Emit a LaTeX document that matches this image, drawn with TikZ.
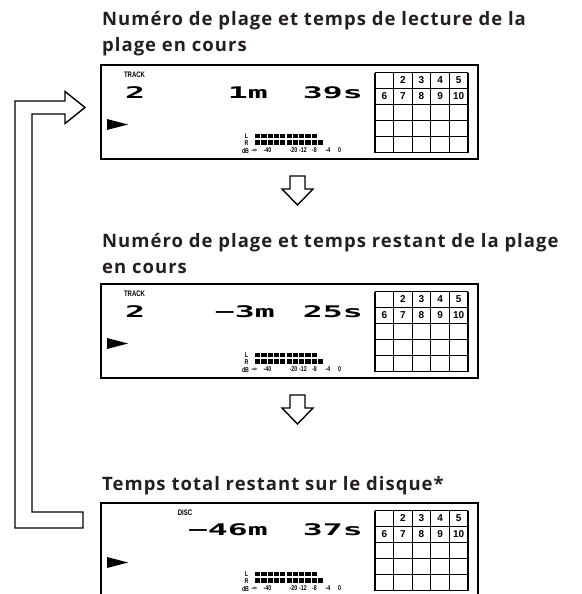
\documentclass[tikz,border=0pt]{standalone}
\usepackage{fontspec}
\usetikzlibrary{positioning}
\newfontfamily\titlefont{Open Sans}[LetterSpace=5.5]
\newfontfamily\lcdfont{DejaVu Sans Mono}[FakeStretch=2.07]
\newfontfamily\narrowfont{Liberation Sans}[FakeStretch=0.75]
\newfontfamily\cellfont{Liberation Sans}
\definecolor{titlecol}{RGB}{35,31,32}
\tikzset{
  title/.style={anchor=base west, inner sep=0pt, text=titlecol,
                font=\titlefont\bfseries\fontsize{18.5}{20}\selectfont},
  panel/.style={draw, line width=1.3pt},
  cell/.style={line width=1.1pt},
  cellnum/.style={inner sep=0pt, font=\cellfont\bfseries\fontsize{10}{10}\selectfont},
  lcd/.style={anchor=base east, inner sep=0pt, font=\lcdfont\bfseries\fontsize{16}{16}\selectfont},
  smalllab/.style={inner sep=0pt, font=\narrowfont\bfseries\fontsize{8}{8}\selectfont},
  meterlab/.style={inner sep=0pt, font=\narrowfont\bfseries\fontsize{7}{7}\selectfont},
  hollow/.style={draw, line width=1.4pt, fill=white, line join=miter},
}
% one display window, #1 = name, #2 = top edge
\newcommand\lcdpanel[2]{%
  \begin{scope}[shift={(0,#2)}]
    \draw[panel] (101,0) rectangle (478,94);
    % disc grid
    \foreach \c in {0,...,5}
      \draw[cell] (375+18.6*\c,7.5) -- (375+18.6*\c,87.5);
    \foreach \r in {0,...,5}
      \draw[cell] (375,7.5+16*\r) -- (468,7.5+16*\r);
    \foreach \n [count=\i] in {2,3,4,5}
      \node[cellnum] (#1-n\n) at (384.3+18.6*\i,15.5) {\n};
    \foreach \n [count=\i from 0] in {6,...,10}
      \node[cellnum] (#1-n\n) at (384.3+18.6*\i,31.5) {\n};
    % play mark
    \fill (107,54) -- (128,59.5) -- (107,65) -- cycle;
    % level meter
    \foreach \k in {0,...,9}
      \fill (255+6.3*\k,68.5) rectangle ++(5.2,4.5);
    \foreach \k in {0,...,10}
      \fill (255+6.3*\k,75) rectangle ++(5.2,4.5);
    \node[meterlab] (#1-l) at (246.5,71) {L};
    \node[meterlab] (#1-r) at (246.5,78) {R};
    \foreach \x/\t [count=\i] in {245.5/dB, 254/-∞, 267.5/-40, 293.5/-20,
                                  303/-12, 314.5/-8, 328/-4, 339.5/0}
      \node[meterlab] (#1-db\i) at (\x,85.5) {\t};
  \end{scope}}

\begin{document}
\begin{tikzpicture}[x=1pt, y=-1pt]
  \useasboundingbox (0,0) rectangle (581,594);
  \clip (0,0) rectangle (581,594);

  \node[title] (t1a) at (102,26) {Numéro de plage et temps de lecture de la};
  \node[title] (t1b) at (102,52) {plage en cours};
  \node[title] (t2a) at (102,247) {Numéro de plage et temps restant de la plage};
  \node[title] (t2b) at (102,273) {en cours};
  \node[title] (t3) at (102,490) {Temps total restant sur le disque*};

  \lcdpanel{p1}{65}
  \lcdpanel{p2}{284}
  \lcdpanel{p3}{503}

  \node[smalllab] (p1-lab) at (134.5,75) {TRACK};
  \node[lcd, anchor=base] (p1-trk) at (135,98) {2};
  \node[lcd] (p1-min) at (268,98) {1m};
  \node[lcd] (p1-sec) at (363,98) {39s};

  \node[smalllab] (p2-lab) at (134.5,294) {TRACK};
  \node[lcd, anchor=base] (p2-trk) at (135,317) {2};
  \node[lcd] (p2-min) at (275,317) {−3m};
  \node[lcd] (p2-sec) at (363,317) {25s};

  \node[smalllab] (p3-lab) at (185,513) {DISC};
  \node[lcd] (p3-min) at (268,535) {−46m};
  \node[lcd] (p3-sec) at (363,535) {37s};

  % down arrows
  \foreach \y in {176,395}
    \draw[hollow] (290,\y) -- (305,\y) -- (305,\y+13) -- (313,\y+13)
      -- (297.5,\y+29) -- (282,\y+13) -- (290,\y+13) -- cycle;

  % return arrow
  \draw[hollow] (83,512) -- (32,512) -- (32,114) -- (65,114) -- (65,123.5)
    -- (85,107.5) -- (65,91.5) -- (65,101) -- (15,101) -- (15,528)
    -- (83,528) -- cycle;
\end{tikzpicture}
\end{document}
